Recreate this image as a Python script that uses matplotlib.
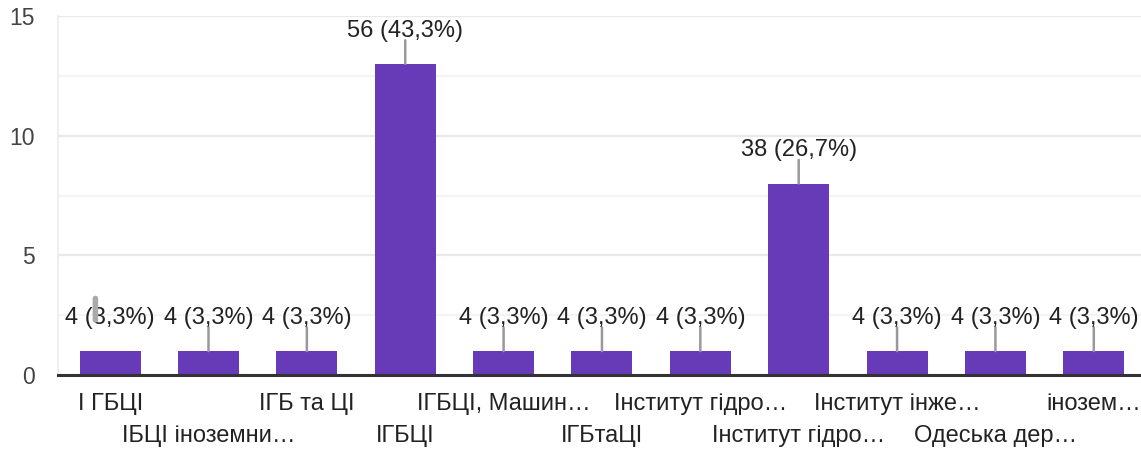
"""Bar chart of answers by institute (Google Forms style)."""

import matplotlib.pyplot as plt
from matplotlib.ticker import MultipleLocator

plt.rcParams["font.family"] = ["Liberation Sans", "DejaVu Sans"]

CATEGORIES = [
    "І ГБЦІ",
    "ІБЦІ іноземни…",
    "ІГБ та ЦІ",
    "ІГБЦІ",
    "ІГБЦІ, Машин…",
    "ІГБтаЦІ",
    "Інститут гідро…",
    "Інститут гідро…",
    "Інститут інже…",
    "Одеська дер…",
    "інозем…",
]
COUNTS = [1, 1, 1, 13, 1, 1, 1, 8, 1, 1, 1]
VALUE_LABELS = [
    "4 (3,3%)", "4 (3,3%)", "4 (3,3%)", "56 (43,3%)", "4 (3,3%)", "4 (3,3%)",
    "4 (3,3%)", "38 (26,7%)", "4 (3,3%)", "4 (3,3%)", "4 (3,3%)",
]
Y_TICKS = [0, 5, 10, 15]

BAR_COLOR = "#673ab7"
TEXT_COLOR = "#222222"
LEADER_COLOR = "#999999"
FONT_SIZE = 17

fig = plt.figure(figsize=(11.41, 4.5), dpi=100)
ax = fig.add_axes([58 / 1141, 75 / 450, 1 - 58 / 1141, 359 / 450])

positions = list(range(len(CATEGORIES)))
ax.bar(positions, COUNTS, width=0.62, color=BAR_COLOR, zorder=3)

ax.set_xlim(-0.53, 10.48)
ax.set_ylim(0, 15)
ax.set_yticks(Y_TICKS)
ax.yaxis.set_minor_locator(MultipleLocator(2.5))
ax.grid(axis="y", which="major", color="#e9e9e9", linewidth=1.6, zorder=0)
ax.grid(axis="y", which="minor", color="#f4f4f4", linewidth=1.6, zorder=0)
ax.tick_params(axis="y", which="both", length=0, pad=17,
               labelsize=16.5, labelcolor="#444444")
ax.tick_params(axis="x", length=0)
ax.set_xticks(positions)
ax.set_xticklabels([])

for side in ("top", "right"):
    ax.spines[side].set_visible(False)
ax.spines["left"].set_color("#eeeeee")
ax.spines["left"].set_linewidth(1.4)
ax.spines["bottom"].set_color("#333333")
ax.spines["bottom"].set_linewidth(2.2)
ax.spines["bottom"].set_zorder(4)

# alternating two-row category labels below the baseline
for pos, name in zip(positions, CATEGORIES):
    offset = -21 if pos % 2 == 0 else -44
    ax.annotate(name, (pos, 0), xytext=(0, offset), textcoords="offset points",
                ha="center", va="center", fontsize=FONT_SIZE, color=TEXT_COLOR,
                annotation_clip=False)

# value labels with short leader lines
for pos, count, label in zip(positions, COUNTS, VALUE_LABELS):
    ax.annotate(label, (pos, count), xytext=(0, 24), textcoords="offset points",
                ha="center", va="center", fontsize=FONT_SIZE, color=TEXT_COLOR,
                zorder=5)
    if pos == 0:
        # the first leader is drawn oddly offset in the source chart
        ax.annotate("", (pos - 0.15, count + 1.3), xytext=(pos - 0.15, count + 2.2),
                    arrowprops=dict(arrowstyle="-", color="#aaaaaa", lw=4,
                                    shrinkA=0, shrinkB=0),
                    zorder=6)
        continue
    ax.annotate("", (pos, count), xytext=(0, 17), textcoords="offset points",
                arrowprops=dict(arrowstyle="-", color=LEADER_COLOR, lw=1.8,
                                shrinkA=0, shrinkB=0),
                zorder=4)

fig.savefig("out.png", dpi=100)
